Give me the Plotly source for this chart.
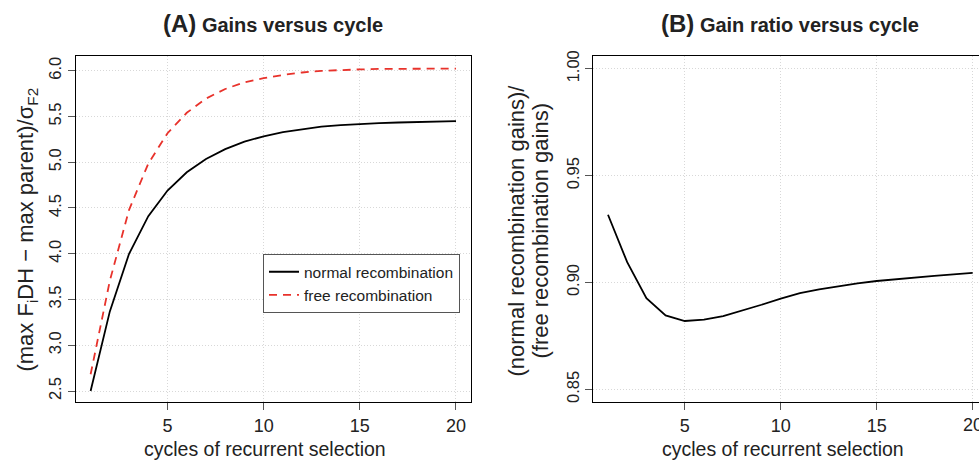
import plotly.graph_objects as go

cycles = list(range(1, 21))
normal_gain = [2.50, 3.37, 4.00, 4.41, 4.69, 4.89, 5.036, 5.143, 5.225, 5.283,
               5.328, 5.362, 5.388, 5.406, 5.419, 5.428, 5.434, 5.440, 5.444, 5.448]
free_gain = [2.683, 3.705, 4.48, 4.985, 5.317, 5.54, 5.695, 5.80, 5.873, 5.918,
             5.953, 5.980, 5.998, 6.009, 6.014, 6.019, 6.020, 6.022, 6.022, 6.023]
gain_ratio = [0.9317, 0.9095, 0.8927, 0.8846, 0.8820, 0.8826, 0.8843, 0.8869, 0.8896, 0.8925,
              0.8950, 0.8968, 0.8983, 0.8996, 0.9007, 0.9016, 0.9024, 0.9031, 0.9038, 0.9045]

xticks = [5, 10, 15, 20]
yticks_a = [2.5, 3.0, 3.5, 4.0, 4.5, 5.0, 5.5, 6.0]
yticks_b = [0.85, 0.90, 0.95, 1.00]

W, H = 979, 463
FONT = "Liberation Sans, Arial, Helvetica, sans-serif"
TXT = "#222222"

fig = go.Figure()
fig.add_trace(go.Scatter(x=cycles, y=normal_gain, mode="lines", name="normal recombination",
                         line=dict(color="black", width=1.8), xaxis="x", yaxis="y"))
fig.add_trace(go.Scatter(x=cycles, y=free_gain, mode="lines", name="free recombination",
                         line=dict(color="#e8322b", width=1.8, dash="8px,6px"), xaxis="x", yaxis="y"))
fig.add_trace(go.Scatter(x=cycles, y=gain_ratio, mode="lines", showlegend=False,
                         line=dict(color="black", width=1.8), xaxis="x2", yaxis="y2"))


def px_x(p):
    return p / W


def px_y(p):
    return 1 - p / H


axis_common = dict(showline=True, linecolor="black", linewidth=1, ticks="outside", ticklen=7,
                   tickcolor="#555555", tickwidth=1, showgrid=True, gridcolor="#d8d8d8",
                   griddash="1px,2px", gridwidth=1, zeroline=False)
xfont = dict(family=FONT, size=18, color=TXT)
yfont = dict(family=FONT, size=16.5, color=TXT)

ydom = [px_y(402.3), px_y(50.7)]

fig.update_layout(
    width=W, height=H, margin=dict(l=0, r=0, t=0, b=0),
    plot_bgcolor="white", paper_bgcolor="white",
    font=dict(family=FONT, color=TXT),
    xaxis=dict(domain=[px_x(76), px_x(470.6)], range=[0.24, 20.76], tickvals=xticks,
               mirror=True, anchor="y", tickfont=xfont, **axis_common),
    yaxis=dict(domain=ydom, range=[2.378, 6.161], tickvals=yticks_a,
               ticktext=[f"{v:.1f}" for v in yticks_a], tickfont=yfont,
               tickangle=-90, mirror=True, anchor="x", **axis_common),
    xaxis2=dict(domain=[px_x(593.3), 1.0], range=[0.234, 20.33], tickvals=xticks,
                ticktext=["5", "10", "15", ""], tickfont=xfont,
                mirror=True, anchor="y2", **axis_common),
    yaxis2=dict(domain=ydom, range=[0.844, 1.006], tickvals=yticks_b,
                ticktext=[f"{v:.2f}" for v in yticks_b], tickfont=yfont,
                tickangle=-90, mirror=False, anchor="x2", **axis_common),
    legend=dict(x=px_x(263), y=px_y(252), xanchor="left", yanchor="top",
                bgcolor="white", bordercolor="#555555", borderwidth=1,
                font=dict(family=FONT, size=15.5, color=TXT),
                tracegroupgap=0, itemwidth=30),
)

ann = [
    dict(x=px_x(273), y=px_y(18), text="<b><span style='font-size:24px'>(A)</span> Gains versus cycle</b>",
         size=20),
    dict(x=px_x(790), y=px_y(18), text="<b><span style='font-size:24px'>(B)</span> Gain ratio versus cycle</b>",
         size=20),
    dict(x=px_x(265), y=px_y(450), text="cycles of recurrent selection", size=19.5),
    dict(x=px_x(783), y=px_y(450), text="cycles of recurrent selection", size=19.5),
    dict(x=px_x(27), y=px_y(227), text="(max F<sub>i</sub>DH \u2212 max parent)/\u03c3<sub>F2</sub>",
         textangle=-90, size=22),
    dict(x=px_x(517), y=px_y(228), text="(normal recombination gains)/",
         textangle=-90, size=22),
    dict(x=px_x(541), y=px_y(228), text="(free recombination gains)",
         textangle=-90, size=22),
]
out = []
for a in ann:
    size = a.pop("size")
    a.update(xref="paper", yref="paper", showarrow=False, xanchor="center", yanchor="middle",
             font=dict(family=FONT, color=TXT, size=size))
    out.append(a)
# the cut-off "20" tick label at the right edge of panel B (cut in the reference too)
out.append(dict(x=20, xref="x2", y=px_y(425), yref="paper", text="20", showarrow=False,
                xanchor="center", yanchor="middle", font=dict(family=FONT, color=TXT, size=18)))
fig.update_layout(annotations=out)

fig.write_html("out.html")
